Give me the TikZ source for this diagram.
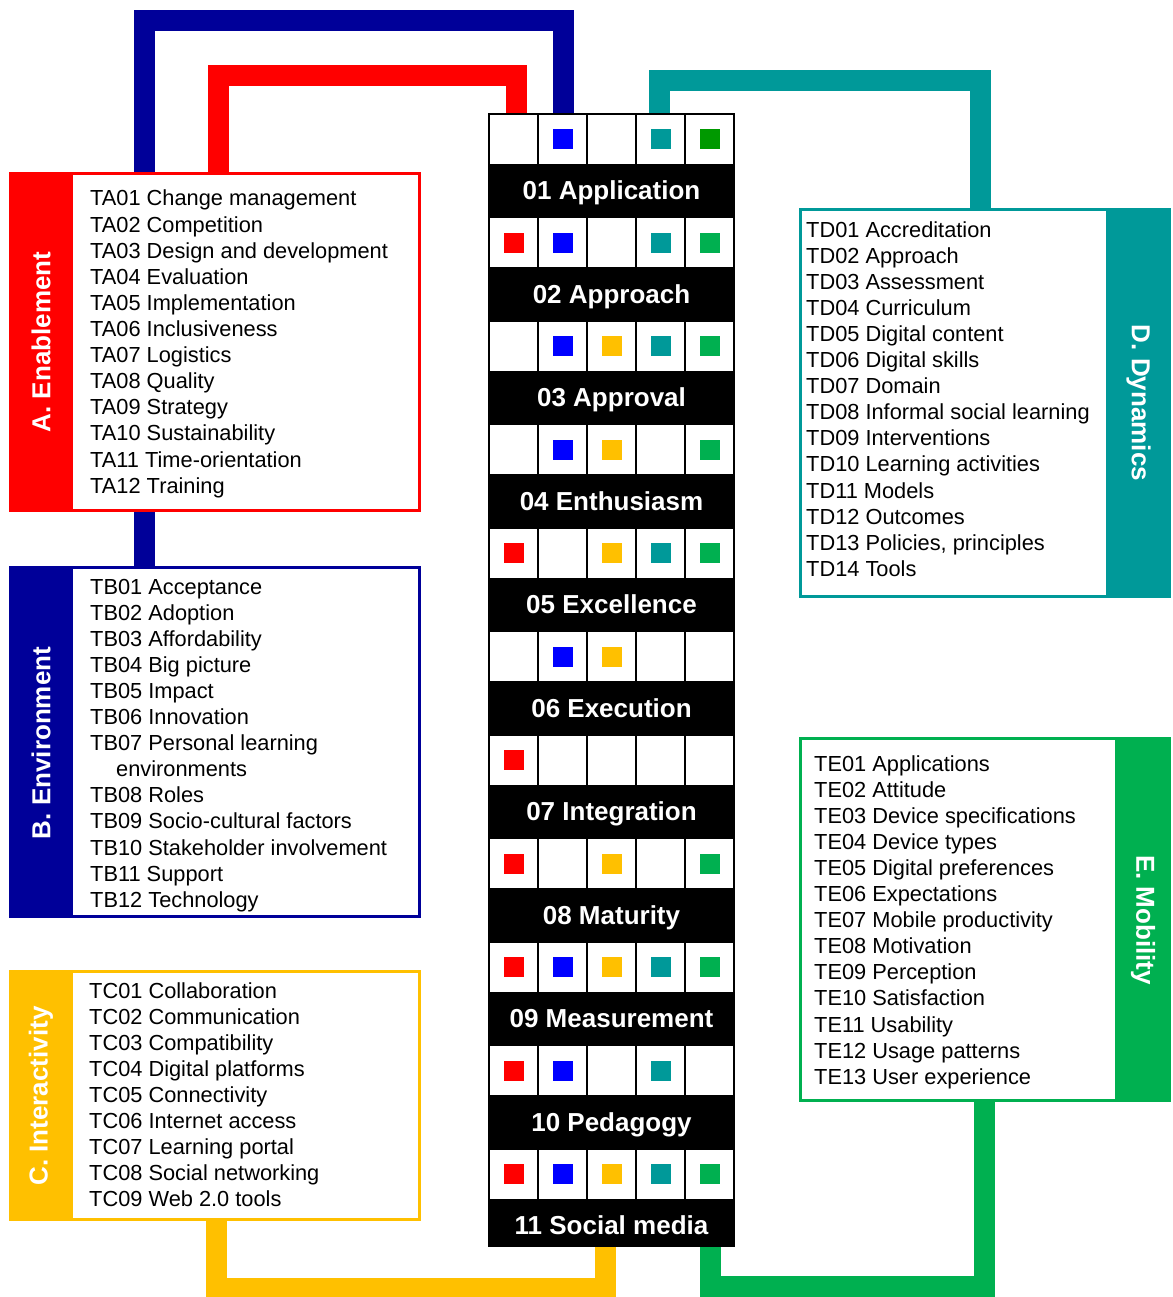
\documentclass[tikz,border=0pt]{standalone}
\usepackage{fontspec}
\setmainfont{Liberation Sans}
\usetikzlibrary{backgrounds}
\definecolor{cRed}{HTML}{FF0000}
\definecolor{cNavy}{HTML}{000099}
\definecolor{cBlue}{HTML}{0000FF}
\definecolor{cAmber}{HTML}{FFC000}
\definecolor{cTeal}{HTML}{009999}
\definecolor{cGreen}{HTML}{00B050}
\definecolor{cDkGreen}{HTML}{009900}
\begin{document}
\begin{tikzpicture}[x=1pt,y=-1pt,
  conn/.style={line width=21pt},
  catbox/.style={draw=#1, line width=3pt, fill=white, inner sep=0pt, outer sep=0pt, rectangle},
  catlabel/.style={text=white, inner sep=0pt, font=\fontsize{26}{30}\selectfont\bfseries},
  item/.style={anchor=base west, inner sep=0pt, font=\fontsize{21.8}{26.1}\selectfont},
  rowlabel/.style={anchor=base, text=white, inner sep=0pt, font=\fontsize{26}{30}\selectfont\bfseries},
  sq/.style={fill=#1},
  cellbox/.style={fill=white}
]
\useasboundingbox (0,0) rectangle (1172,1297);

% ---------- central column ----------
\node[fill=black, minimum width=247, minimum height=1134, inner sep=0pt, outer sep=0pt] (col) at (611.5,680) {};
\foreach \r/\lab/\a/\b/\c/\d/\e [count=\i from 0] in {
  01/01 Application/0/1/0/1/2,
  02/02 Approach/1/1/0/1/1,
  03/03 Approval/0/1/1/1/1,
  04/04 Enthusiasm/0/1/1/0/1,
  05/05 Excellence/1/0/1/1/1,
  06/06 Execution/0/1/1/0/0,
  07/07 Integration/1/0/0/0/0,
  08/08 Maturity/1/0/1/0/1,
  09/09 Measurement/1/1/1/1/1,
  10/10 Pedagogy/1/1/0/1/0,
  11/11 Social media/1/1/1/1/1}{
  \pgfmathsetmacro\yy{113+\i*103.45}
  \foreach \k in {0,...,4}
    \fill[cellbox] (490+\k*49,\yy+2) rectangle ++(47,49);
  \ifnum\a=1 \fill[sq=cRed]   (503.5,\yy+16.5) rectangle ++(20,20);\fi
  \ifnum\b=1 \fill[sq=cBlue]  (552.5,\yy+16.5) rectangle ++(20,20);\fi
  \ifnum\c=1 \fill[sq=cAmber] (601.5,\yy+16.5) rectangle ++(20,20);\fi
  \ifnum\d=1 \fill[sq=cTeal]  (650.5,\yy+16.5) rectangle ++(20,20);\fi
  \ifcase\e \or \fill[sq=cGreen] (699.5,\yy+16.5) rectangle ++(20,20);
            \or \fill[sq=cDkGreen] (699.5,\yy+16.5) rectangle ++(20,20);\fi
  \node[rowlabel] (lab\r) at (611.5,\yy+87) {\lab};
}

% ---------- category boxes ----------
% A. Enablement
\node[catbox=cRed, minimum width=409, minimum height=337] (boxA) at (215,342) {};
\fill[cRed] ([shift={(-1.5,-1.5)}]boxA.north west) rectangle ([shift={(62.5,1.5)}]boxA.south west);
\node[catlabel, rotate=90] (labA) at (41,342) {A. Enablement};
\foreach \t [count=\n from 0] in {TA01 Change management, TA02 Competition,
  TA03 Design and development, TA04 Evaluation, TA05 Implementation,
  TA06 Inclusiveness, TA07 Logistics, TA08 Quality, TA09 Strategy,
  TA10 Sustainability, TA11 Time-orientation, TA12 Training}
  \node[item] (ta\n) at (90,206+\n*26.1) {\t};

% B. Environment
\node[catbox=cNavy, minimum width=409, minimum height=349] (boxB) at (215,742) {};
\fill[cNavy] ([shift={(-1.5,-1.5)}]boxB.north west) rectangle ([shift={(62.5,1.5)}]boxB.south west);
\node[catlabel, rotate=90] (labB) at (41,743) {B. Environment};
\foreach \t/\dx [count=\n from 0] in {TB01 Acceptance/0, TB02 Adoption/0,
  TB03 Affordability/0, TB04 Big picture/0, TB05 Impact/0, TB06 Innovation/0,
  TB07 Personal learning/0, environments/26, TB08 Roles/0,
  TB09 Socio-cultural factors/0, TB10 Stakeholder involvement/0,
  TB11 Support/0, TB12 Technology/0}
  \node[item] (tb\n) at (90+\dx,594+\n*26.1) {\t};

% C. Interactivity
\node[catbox=cAmber, minimum width=409, minimum height=248] (boxC) at (215,1095.5) {};
\fill[cAmber] ([shift={(-1.5,-1.5)}]boxC.north west) rectangle ([shift={(62.5,1.5)}]boxC.south west);
\node[catlabel, rotate=90] (labC) at (41,1096) {C. Interactivity};
\foreach \t [count=\n from 0] in {TC01 Collaboration, TC02 Communication,
  TC03 Compatibility, TC04 Digital platforms, TC05 Connectivity,
  TC06 Internet access, TC07 Learning portal, TC08 Social networking,
  TC09 Web 2.0 tools}
  \node[item] (tc\n) at (89,998+\n*26.1) {\t};

% D. Dynamics
\node[catbox=cTeal, minimum width=369, minimum height=387] (boxD) at (985,403) {};
\fill[cTeal] ([shift={(-63.5,-1.5)}]boxD.north east) rectangle ([shift={(1.5,1.5)}]boxD.south east);
\node[catlabel, rotate=-90] (labD) at (1138.5,403) {D. Dynamics};
\foreach \t [count=\n from 0] in {TD01 Accreditation, TD02 Approach,
  TD03 Assessment, TD04 Curriculum, TD05 Digital content, TD06 Digital skills,
  TD07 Domain, TD08 Informal social learning, TD09 Interventions,
  TD10 Learning activities, TD11 Models, TD12 Outcomes,
  {TD13 Policies, principles}, TD14 Tools}
  \node[item] (td\n) at (806,237+\n*26.1) {\t};

% E. Mobility
\node[catbox=cGreen, minimum width=369, minimum height=362] (boxE) at (985,919.5) {};
\fill[cGreen] ([shift={(-54.5,-1.5)}]boxE.north east) rectangle ([shift={(1.5,1.5)}]boxE.south east);
\node[catlabel, rotate=-90] (labE) at (1143,920) {E. Mobility};
\foreach \t [count=\n from 0] in {TE01 Applications, TE02 Attitude,
  TE03 Device specifications, TE04 Device types, TE05 Digital preferences,
  TE06 Expectations, TE07 Mobile productivity, TE08 Motivation,
  TE09 Perception, TE10 Satisfaction, TE11 Usability, TE12 Usage patterns,
  TE13 User experience}
  \node[item] (te\n) at (814,771+\n*26.1) {\t};

% ---------- connectors (behind the boxes) ----------
\coordinate (blueL) at (144.5,21);   \coordinate (blueR) at (563,21);
\coordinate (redL)  at (218.5,75.5); \coordinate (redR)  at (516,75.5);
\coordinate (tealL) at (659,81);     \coordinate (tealR) at (980.5,81);
\coordinate (ambL)  at (216,1288.5); \coordinate (ambR)  at (605.5,1288.5);
\coordinate (grnL)  at (710.5,1286.5); \coordinate (grnR) at (984.5,1286.5);
\begin{scope}[on background layer]
  \draw[conn, cNavy] (boxB.north -| blueL) -- (blueL) -- (blueR) -- (col.north -| blueR);
  \draw[conn, cRed]  (boxA.north -| redL) -- (redL) -- (redR) -- (col.north -| redR);
  \draw[conn, cTeal] (col.north -| tealL) -- (tealL) -- (tealR) -- (boxD.north -| tealR);
  \draw[conn, cAmber] (boxC.south -| ambL) -- (ambL) -- (ambR) -- (col.south -| ambR);
  \draw[conn, cGreen] (col.south -| grnL) -- (grnL) -- (grnR) -- (boxE.south -| grnR);
\end{scope}
\end{tikzpicture}
\end{document}
